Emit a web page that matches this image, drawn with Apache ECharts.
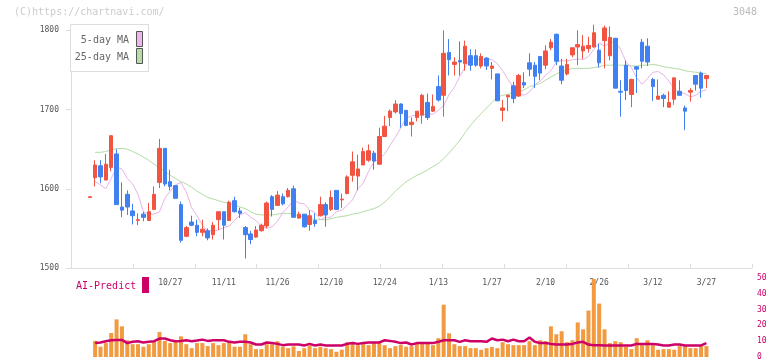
<!DOCTYPE html>
<html><head><meta charset="utf-8">
<script src="https://cdn.jsdelivr.net/npm/echarts@6/dist/echarts.min.js"></script>
<style>html,body{margin:0;padding:0;background:#fff}#c{width:772px;height:361px}</style>
</head><body><div id="c"></div><script>
const dates = ['10/3','10/6','10/7','10/8','10/9','10/10','10/14','10/15','10/16','10/17','10/20','10/21','10/22','10/23','10/24','10/27','10/28','10/29','10/30','10/31',
'11/4','11/5','11/6','11/7','11/10','11/11','11/12','11/13','11/14','11/17','11/18','11/19','11/20','11/21','11/25','11/26','11/27','11/28',
'12/1','12/2','12/3','12/4','12/5','12/8','12/9','12/10','12/11','12/12','12/15','12/16','12/17','12/18','12/19','12/22','12/23','12/24','12/25','12/26','12/29','12/30',
'1/5','1/6','1/7','1/8','1/9','1/13','1/14','1/15','1/16','1/19','1/20','1/21','1/22','1/23','1/26','1/27','1/28','1/29','1/30',
'2/2','2/3','2/4','2/5','2/6','2/9','2/10','2/12','2/13','2/16','2/17','2/18','2/19','2/20','2/24','2/25','2/26','2/27',
'3/2','3/3','3/4','3/5','3/6','3/9','3/10','3/11','3/12','3/13','3/16','3/17','3/18','3/19','3/23','3/24','3/25','3/26','3/27'];
const tickLabels = ['10/27','11/11','11/26','12/10','12/24','1/13','1/27','2/10','2/26','3/12','3/27'];
const priceTicks = [1500,1600,1700,1800];
const openP = [1589,1614,1629,1611,1627,1644,1577,1593,1572,1560,
1568,1560,1574,1608,1651,1609,1604,1580,1540,1558,
1554,1545,1547,1542,1561,1571,1560,1585,1572,1551,
1543,1539,1547,1553,1590,1579,1590,1590,1600,1563,
1568,1555,1560,1566,1580,1574,1598,1586,1594,1617,
1616,1630,1636,1645,1631,1666,1690,1697,1707,1699,
1681,1690,1693,1709,1698,1729,1718,1772,1757,1762,
1758,1768,1768,1755,1765,1752,1745,1699,1716,1730,
1717,1734,1759,1756,1767,1756,1778,1795,1755,1745,
1769,1779,1774,1777,1779,1775,1787,1768,1790,1723,
1756,1719,1754,1785,1780,1738,1713,1718,1703,1713,
1723,1702,1722,1743,1746,1739];
const closeP = [1590,1630,1615,1631,1667,1580,1573,1577,1566,1561,
1564,1571,1593,1651,1606,1603,1588,1535,1551,1554,
1545,1549,1538,1554,1571,1554,1583,1571,1569,1542,
1536,1548,1554,1582,1574,1592,1581,1598,1564,1568,
1552,1566,1556,1580,1567,1589,1574,1587,1615,1634,
1625,1647,1648,1635,1666,1679,1698,1707,1695,1680,
1684,1698,1718,1690,1704,1712,1771,1763,1760,1760,
1780,1756,1756,1767,1755,1755,1711,1702,1718,1714,
1743,1731,1751,1742,1746,1774,1785,1761,1737,1757,
1778,1782,1780,1781,1797,1759,1803,1791,1727,1722,
1724,1738,1751,1761,1760,1729,1717,1714,1709,1740,
1718,1698,1724,1732,1727,1743];
const lowP = [1589,1603,1607,1611,1622,1580,1564,1567,1555,1554,
1559,1560,1574,1601,1603,1598,1588,1532,1539,1553,
1540,1540,1535,1536,1548,1536,1560,1570,1563,1512,
1530,1538,1546,1550,1565,1579,1579,1589,1564,1562,
1551,1547,1552,1565,1552,1572,1574,1576,1593,1609,
1598,1630,1634,1624,1631,1666,1679,1695,1677,1679,
1666,1685,1682,1687,1697,1710,1691,1743,1743,1743,
1749,1749,1754,1752,1750,1738,1711,1685,1698,1708,
1716,1727,1742,1727,1737,1751,1775,1756,1732,1743,
1766,1756,1764,1772,1778,1753,1752,1762,1727,1691,
1712,1703,1721,1752,1755,1711,1713,1703,1703,1706,
1718,1674,1710,1724,1715,1727];
const highP = [1590,1636,1636,1644,1667,1650,1608,1598,1581,1569,
1571,1582,1603,1663,1651,1624,1604,1584,1553,1566,
1561,1561,1550,1558,1571,1571,1585,1590,1576,1553,
1547,1553,1556,1584,1592,1597,1594,1601,1604,1571,
1568,1573,1569,1590,1583,1598,1598,1594,1617,1647,
1643,1652,1656,1648,1677,1692,1700,1712,1708,1699,
1690,1698,1720,1720,1719,1743,1800,1789,1766,1786,
1787,1776,1776,1771,1766,1760,1745,1712,1719,1735,
1745,1747,1771,1760,1767,1781,1789,1796,1764,1764,
1778,1800,1794,1792,1807,1783,1806,1805,1790,1737,
1762,1739,1755,1789,1790,1740,1738,1720,1723,1740,
1737,1705,1727,1743,1748,1743];
const ma5 = ['-',1609,1605,1600,1613,1627,1625,1613,1606,1593,
1571,1568,1568,1571,1588,1597,1605,1608,1596,1576,
1566,1554,1547,1547,1548,1551,1553,1560,1567,1570,
1564,1560,1553,1550,1552,1559,1570,1577,1586,1582,
1581,1573,1570,1561,1564,1564,1571,1573,1579,1586,
1600,1607,1622,1634,1638,1644,1655,1665,1677,1689,
1692,1693,1693,1695,1694,1699,1705,1719,1728,1742,
1753,1767,1764,1762,1764,1763,1758,1749,1738,1728,
1720,1718,1722,1731,1736,1743,1749,1760,1762,1761,
1763,1764,1763,1767,1776,1784,1780,1784,1786,1776,
1760,1753,1740,1732,1739,1747,1748,1744,1736,1726,
1722,1720,1716,1718,1723,1725];
const ma25 = ['-',1646,1646,1647,1649,1651,1651,1650,1647,1644,
1640,1636,1631,1627,1622,1617,1613,1609,1606,1602,
1597,1593,1589,1587,1585,1583,1582,1580,1577,1575,
1571,1568,1567,1567,1567,1568,1569,1569,1568,1566,
1564,1563,1561,1561,1561,1562,1564,1565,1566,1568,
1569,1571,1573,1575,1578,1583,1590,1597,1603,1609,
1613,1617,1620,1624,1628,1632,1638,1645,1653,1661,
1671,1680,1688,1695,1702,1709,1716,1718,1719,1721,
1722,1725,1729,1731,1733,1737,1741,1745,1748,1750,
1752,1752,1752,1752,1753,1754,1756,1756,1756,1756,
1756,1755,1755,1756,1756,1757,1756,1754,1753,1752,
1751,1749,1748,1747,1746,1745];
const volume = ['-',10.2,6.5,8.8,15.2,23.8,19.4,10.6,8.1,8.1,
6.5,8.1,9.8,15.8,10.2,8.8,9.8,13.1,8.1,5.6,
8.8,8.8,6.9,8.8,7.5,8.8,9.8,6.5,6.5,14.4,
8.1,5,5,8.1,8.1,10,6.5,5.6,6.7,3.8,
5.6,7.3,5.6,6.5,5.6,5,3.3,4.6,9.4,9.4,
7.5,9.4,7.5,9.4,9.4,7.5,5.6,6.9,7.7,6.5,
6.9,8.8,8.8,8.8,7.5,11.9,33.1,15,8.1,6.9,
6.9,5.6,5.6,4.6,5.6,6.3,5.6,9.4,8.1,7.5,
7.5,7.5,10,7.5,10.6,10,19.4,14.4,16.3,9.4,
10.6,21.9,17.5,29.4,49.4,33.8,17.5,8.8,10,9.4,
6.5,5,11.9,8.8,10.6,7.5,4.6,5,5,4.6,
6.9,6.9,5.6,5.6,6.9,6.9];
const aiPredict = ['-',8.8,9.2,10,10.6,10.8,10.8,8.8,9.6,10,
9.2,9.6,10,11.7,11.7,10.6,10,10.2,10.6,10,
10.4,11,10.2,10.6,10.6,10.6,9.6,9.2,9.6,9.6,
9.2,7.9,7.9,9.2,8.8,8.3,7.5,7.9,7.9,7.9,
7.3,8.3,7.3,7.9,7.3,7.3,7.3,7.3,8.3,8.8,
8.3,8.8,9.2,9.2,9.2,10.6,10.2,9.6,8.8,9.2,
7.9,8.8,8.8,8.8,8.8,9.6,10.6,10.6,10.6,9.6,
10.6,10,10,10,9.6,11.7,10.6,11,10,11,
10,10,12.3,9.6,8.8,8.8,8.3,7.9,7.9,7.9,
8.3,9.2,9.6,7.9,7.5,7.5,7.3,7.3,7.3,7.3,
7.3,7.3,8.3,8.3,8.3,8.3,7.9,7.3,7.3,7.9,
7.9,7.3,7.3,7.3,7.3,8.8];
const volTicks = [0,10,20,30,40,50];

// empty slots before and after the data on the category axis
const PAD_L = 3, PAD_R = 8;
const cats = [];
for (let k = 0; k < PAD_L; k++) cats.push('s' + k);
dates.forEach(d => cats.push(d));
for (let k = 0; k < PAD_R; k++) cats.push('e' + k);
const pad = arr => Array(PAD_L).fill('-').concat(arr, Array(PAD_R).fill('-'));
const ohlc = dates.map((d, j) => [openP[j], closeP[j], lowP[j], highP[j]]);

const MONO = 'DejaVu Sans Mono';
const UP = '#f25442', DOWN = '#4180f0';
const chart = echarts.init(document.getElementById('c'), null, {renderer: 'canvas'});
chart.setOption({
  animation: false,
  backgroundColor: '#fff',
  grid: [
    {left: 71, right: 20, top: 24, height: 244},
    {left: 71, right: 20, top: 278, height: 80}
  ],
  xAxis: [
    {type: 'category', gridIndex: 0, data: cats, boundaryGap: true,
     axisLine: {lineStyle: {color: '#dddddd'}}, axisTick: {show: false},
     axisLabel: {interval: (i, v) => tickLabels.includes(v), color: '#555', fontFamily: MONO, fontSize: 8, margin: 11},
     splitLine: {show: false}},
    {type: 'value', gridIndex: 0, min: 0, max: 11, interval: 1, position: 'bottom',
     axisLine: {show: false}, axisTick: {show: true, inside: true, length: 4, lineStyle: {color: '#dddddd'}},
     axisLabel: {show: false}, splitLine: {show: false}},
    {type: 'category', gridIndex: 1, data: cats, boundaryGap: true, show: false}
  ],
  yAxis: [
    {type: 'value', gridIndex: 0, min: 1500, max: 1808, interval: 100,
     axisLine: {show: true, lineStyle: {color: '#dddddd'}},
     axisTick: {show: true, length: 5, lineStyle: {color: '#dddddd'}, customValues: priceTicks},
     axisLabel: {customValues: priceTicks, formatter: v => String(v), color: '#555', fontFamily: MONO, fontSize: 8, margin: 12},
     splitLine: {show: false}},
    {type: 'value', gridIndex: 1, position: 'right', min: 0, max: 50, interval: 10,
     axisLine: {show: false}, axisTick: {show: false},
     axisLabel: {customValues: volTicks, formatter: v => String(v), color: '#cc0066', fontFamily: MONO, fontSize: 8, margin: 5},
     splitLine: {show: false}}
  ],
  series: [
    {type: 'line', name: '25-day MA', xAxisIndex: 0, yAxisIndex: 0, data: pad(ma25), symbol: 'none',
     lineStyle: {color: '#b4dca4', width: 1}, z: 2},
    {type: 'line', name: '5-day MA', xAxisIndex: 0, yAxisIndex: 0, data: pad(ma5), symbol: 'none',
     lineStyle: {color: '#e8b4e8', width: 1}, z: 2},
    {type: 'candlestick', xAxisIndex: 0, yAxisIndex: 0, data: pad(ohlc), barWidth: 4,
     itemStyle: {color: UP, color0: DOWN, borderColor: UP, borderColor0: DOWN, borderWidth: 1}, z: 3},
    {type: 'bar', xAxisIndex: 2, yAxisIndex: 1, data: pad(volume), barWidth: 4,
     itemStyle: {color: '#f29a40'}, z: 2},
    {type: 'line', xAxisIndex: 2, yAxisIndex: 1, data: pad(aiPredict), symbol: 'none',
     lineStyle: {color: '#cc0066', width: 2.5}, z: 3}
  ],
  graphic: [
    {type: 'text', x: 14, y: 12, style: {text: '(C)https://chartnavi.com/', font: '10px ' + MONO, fill: '#cccccc', align: 'left', verticalAlign: 'middle'}},
    {type: 'text', x: 757, y: 12, style: {text: '3048', font: '10px ' + MONO, fill: '#bbbbbb', align: 'right', verticalAlign: 'middle'}},
    {type: 'rect', z: 10, shape: {x: 70.5, y: 24.5, width: 78, height: 47}, style: {fill: '#fff', stroke: '#dddddd', lineWidth: 1}},
    {type: 'text', z: 11, x: 129, y: 40, style: {text: '5-day MA', font: '10px ' + MONO, fill: '#666', align: 'right', verticalAlign: 'middle'}},
    {type: 'rect', z: 11, shape: {x: 136.5, y: 31.5, width: 6, height: 15}, style: {fill: '#ecb8ec', stroke: '#555', lineWidth: 1}},
    {type: 'text', z: 11, x: 129, y: 57, style: {text: '25-day MA', font: '10px ' + MONO, fill: '#666', align: 'right', verticalAlign: 'middle'}},
    {type: 'rect', z: 11, shape: {x: 136.5, y: 48.5, width: 6, height: 15}, style: {fill: '#b8dca8', stroke: '#555', lineWidth: 1}},
    {type: 'text', x: 76, y: 286, style: {text: 'AI-Predict', font: '10px ' + MONO, fill: '#cc0066', align: 'left', verticalAlign: 'middle'}},
    {type: 'rect', shape: {x: 142, y: 277, width: 7, height: 16}, style: {fill: '#cc0066'}}
  ]
});
</script></body></html>
